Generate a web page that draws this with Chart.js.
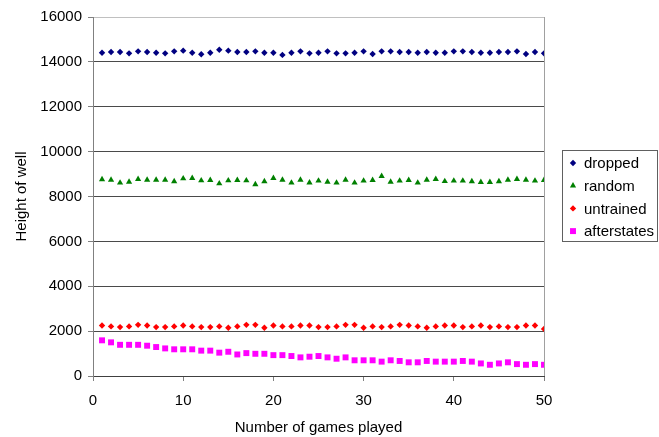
<!DOCTYPE html>
<html>
<head>
<meta charset="utf-8">
<script src="https://cdn.jsdelivr.net/npm/chart.js@4.4.1/dist/chart.umd.min.js"></script>
<style>
  html, body { margin: 0; padding: 0; background: #ffffff; }
  #wrap { width: 659px; height: 437px; }
</style>
</head>
<body>
<div id="wrap"><canvas id="c" width="659" height="437"></canvas></div>
<script>
// Game number (x) for every measurement
const games = [1,2,3,4,5,6,7,8,9,10,11,12,13,14,15,16,17,18,19,20,21,22,23,24,25,
               26,27,28,29,30,31,32,33,34,35,36,37,38,39,40,41,42,43,44,45,46,47,48,49,50];

// Height of the well after each game, one array per agent
const dropped = [14410,14440,14440,14380,14470,14440,14410,14380,14470,14500,
                 14410,14340,14410,14540,14500,14440,14440,14470,14410,14410,
                 14310,14410,14470,14380,14410,14470,14380,14380,14410,14470,
                 14350,14470,14470,14440,14440,14410,14440,14410,14410,14470,
                 14470,14440,14410,14410,14440,14440,14470,14350,14440,14380];
const random = [8760,8740,8610,8650,8770,8740,8740,8740,8670,8800,
                8820,8710,8730,8580,8710,8730,8710,8540,8670,8820,
                8740,8610,8740,8620,8700,8650,8610,8740,8610,8700,
                8730,8910,8650,8700,8730,8610,8740,8770,8680,8700,
                8700,8670,8640,8640,8670,8740,8770,8740,8700,8730];
const untrained = [2250,2210,2180,2210,2280,2250,2180,2180,2210,2250,
                   2210,2180,2180,2210,2150,2210,2280,2280,2150,2250,
                   2210,2210,2250,2250,2180,2180,2210,2280,2280,2150,
                   2210,2180,2210,2280,2250,2210,2150,2210,2250,2250,
                   2180,2210,2250,2180,2210,2180,2180,2250,2250,2100];
const afterstates = [1590,1500,1390,1390,1390,1350,1290,1230,1190,1190,
                     1190,1130,1130,1040,1080,960,1020,990,990,930,
                     930,890,830,860,890,830,770,830,700,700,
                     700,640,700,670,610,610,670,640,640,640,
                     670,640,560,500,560,610,530,500,530,500];

const seriesNames = ['dropped', 'random', 'untrained', 'afterstates'];
const yTicks = [0, 2000, 4000, 6000, 8000, 10000, 12000, 14000, 16000];
const xTicks = [0, 10, 20, 30, 40, 50];

const FONT = "'Liberation Sans', Arial, sans-serif";

function points(values) {
  return games.map((g, i) => ({ x: g, y: values[i] }));
}

// Plot-area frame: grey right edge line
const frame = {
  id: 'frame',
  beforeDatasetsDraw(chart) {
    const { ctx, chartArea: a } = chart;
    ctx.save();
    ctx.strokeStyle = '#a0a0a0';
    ctx.lineWidth = 1;
    ctx.beginPath();
    ctx.moveTo(Math.round(a.right) + 0.5, a.top);
    ctx.lineTo(Math.round(a.right) + 0.5, a.bottom);
    ctx.stroke();
    ctx.restore();
  }
};

// Boxed legend to the right of the plot
const boxLegend = {
  id: 'boxLegend',
  afterDraw(chart) {
    const { ctx } = chart;
    const left = 562, top = 150, w = 95, h = 91, rowH = 22.7;
    ctx.save();
    ctx.fillStyle = '#ffffff';
    ctx.fillRect(left, top, w, h);
    ctx.strokeStyle = '#606060';
    ctx.lineWidth = 1;
    ctx.strokeRect(left + 0.5, top + 0.5, w, h);
    ctx.font = '15px ' + FONT;
    ctx.textBaseline = 'middle';
    ctx.textAlign = 'left';
    chart.data.datasets.forEach((ds, i) => {
      const y = top + 13 + i * rowH;
      ctx.fillStyle = ds.backgroundColor;
      ctx.strokeStyle = ds.borderColor;
      Chart.helpers.drawPoint(ctx, {
        pointStyle: ds.pointStyle, radius: ds.pointRadius, rotation: 0, borderWidth: 0
      }, left + 11, y);
      ctx.fillStyle = '#000000';
      ctx.fillText(ds.label, left + 22, y + 1);
    });
    ctx.restore();
  }
};

new Chart(document.getElementById('c'), {
  type: 'scatter',
  data: {
    datasets: [
      { label: seriesNames[0], data: points(dropped), pointStyle: 'rectRot', pointRadius: 3.2,
        backgroundColor: '#000080', borderColor: '#000080', borderWidth: 0 },
      { label: seriesNames[1], data: points(random), pointStyle: 'triangle', pointRadius: 3.6,
        backgroundColor: '#008000', borderColor: '#008000', borderWidth: 0 },
      { label: seriesNames[2], data: points(untrained), pointStyle: 'rectRot', pointRadius: 3.2,
        backgroundColor: '#ff0000', borderColor: '#ff0000', borderWidth: 0 },
      { label: seriesNames[3], data: points(afterstates), pointStyle: 'rect', pointRadius: 4.2,
        backgroundColor: '#ff00ff', borderColor: '#ff00ff', borderWidth: 0 }
    ]
  },
  options: {
    responsive: false,
    animation: false,
    events: [],
    layout: { padding: { top: 17, right: 115, bottom: 0, left: 0 } },
    plugins: { legend: { display: false }, tooltip: { enabled: false } },
    scales: {
      x: {
        type: 'linear', min: 0, max: 50,
        afterBuildTicks: s => { s.ticks = xTicks.map(v => ({ value: v })); },
        ticks: { color: '#000', padding: 11, font: { family: FONT, size: 15 },
                 callback: v => String(v) },
        grid: { drawOnChartArea: false, drawTicks: true, tickLength: 5, tickColor: '#808080' },
        border: { color: '#404040' },
        title: { display: true, text: 'Number of games played', color: '#000',
                 font: { family: FONT, size: 15 }, padding: { top: 0, bottom: 0 } },
        afterFit: s => { s.height = 61; }
      },
      y: {
        min: 0, max: 16000,
        afterBuildTicks: s => { s.ticks = yTicks.map(v => ({ value: v })); },
        ticks: { color: '#000', padding: 6, font: { family: FONT, size: 15 },
                 callback: v => String(v) },
        grid: {
          color: c => (c.tick && c.tick.value === 16000) ? '#c0c0c0' : '#4a4a4a',
          tickColor: '#808080', tickLength: 5
        },
        border: { color: '#808080' },
        title: { display: true, text: 'Height of well', color: '#000',
                 font: { family: FONT, size: 15 }, padding: { top: 13, bottom: 0 } },
        afterFit: s => { s.width = 93; }
      }
    }
  },
  plugins: [frame, boxLegend]
});
</script>
</body>
</html>
